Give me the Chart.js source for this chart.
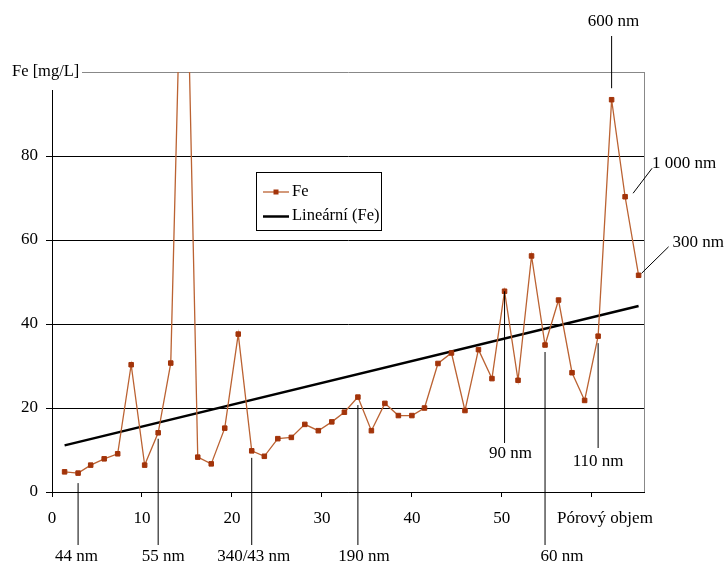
<!DOCTYPE html>
<html>
<head>
<meta charset="utf-8">
<script src="https://cdn.jsdelivr.net/npm/chart.js@4.4.1/dist/chart.umd.min.js"></script>
<style>
    html, body { margin: 0; padding: 0; background: #fff; }
    canvas { display: block; }
</style>
</head>
<body>
<canvas id="chart" width="726" height="566"></canvas>
<script>
// hodnoty
const poreVolume = [1.4, 2.9, 4.3, 5.8, 7.3, 8.8, 10.3, 11.8, 13.2, 14.7, 16.2, 17.7, 19.2, 20.7, 22.2,
    23.6, 25.1, 26.6, 28.1, 29.6, 31.1, 32.5, 34.0, 35.5, 37.0, 38.5, 40.0, 41.4, 42.9, 44.4,
    45.9, 47.4, 48.9, 50.3, 51.8, 53.3, 54.8, 56.3, 57.8, 59.2, 60.7, 62.2, 63.7, 65.2];
const feValues = [4.8, 4.5, 6.4, 7.9, 9.1, 30.3, 6.4, 14.1, 30.7, 159, 8.3, 6.7, 15.2, 37.6, 9.8,
    8.5, 12.7, 13.0, 16.1, 14.6, 16.7, 19.0, 22.6, 14.6, 21.1, 18.2, 18.2, 20.0, 30.6, 33.1,
    19.4, 33.9, 27.0, 47.8, 26.6, 56.2, 35.0, 45.7, 28.4, 21.8, 37.1, 93.4, 70.3, 51.6];
const trendVolume = [1.4, 65.2];
const trendFe = [11.1, 44.3];
const xTickLabels = ['0', '10', '20', '30', '40', '50'];
const yTickLabels = ['0', '20', '40', '60', '80'];
const xTitle = 'Pórový objem';
const yTitle = 'Fe [mg/L]';
const seriesName = 'Fe';
const trendName = 'Lineární (Fe)';

const FONT = '"Liberation Serif", "Times New Roman", serif';
const LINE_COLOR = '#bb6232';
const MARK_COLOR = '#a3340a';

// popisky velikosti pórů (i = index bodu, gap = odstup od bodu, end = konec čáry)
const notes = [
    { text: '44 nm', i: 1, gap: 10, end: 545, dx: -1.5, ty: 557 },
    { text: '55 nm', i: 7, gap: 6, end: 545, dx: 5, ty: 557 },
    { text: '340/43 nm', i: 14, gap: 7, end: 545, dx: 2, ty: 557 },
    { text: '190 nm', i: 22, gap: 8, end: 545, dx: 6, ty: 557 },
    { text: '60 nm', i: 36, gap: 7, end: 545, dx: 17, ty: 557 },
    { text: '90 nm', i: 33, gap: 0, end: 443, dx: 6, ty: 454 },
    { text: '110 nm', i: 40, gap: 7, end: 448, dx: 0, ty: 462 },
    { text: '600 nm', i: 41, gap: -11.5, end: 36, dx: 2, ty: 22 }
];
const slantNotes = [
    { text: '1 000 nm', i: 42, from: [8, -3.5], to: [27, -28.5], tx: 27, ty: -33.5 },
    { text: '300 nm', i: 43, from: [3, -2], to: [30, -28.5], tx: 34, ty: -33 }
];

const overlay = {
    id: 'overlay',
    afterDraw(chart) {
        const { ctx, chartArea: a, scales: { x, y } } = chart;
        ctx.save();
        ctx.font = '17px ' + FONT;
        ctx.fillStyle = '#000';

        // pravý okraj
        ctx.strokeStyle = '#888';
        ctx.lineWidth = 1;
        ctx.beginPath();
        ctx.moveTo(a.right + 0.5, a.top);
        ctx.lineTo(a.right + 0.5, a.bottom);
        ctx.stroke();

        // nadpis osy x
        ctx.textAlign = 'left';
        ctx.textBaseline = 'middle';
        ctx.fillText(xTitle, 557, 519);

        // nadpis osy y
        ctx.font = '16.5px ' + FONT;
        ctx.fillStyle = '#fff';
        ctx.fillRect(0, a.top - 12, 82, 30);
        ctx.fillStyle = '#000';
        ctx.fillText(yTitle, 12, a.top);

        // legenda
        ctx.fillStyle = '#fff';
        ctx.fillRect(256.5, 172.5, 125, 58);
        ctx.strokeStyle = '#000';
        ctx.strokeRect(256.5, 172.5, 125, 58);
        ctx.strokeStyle = LINE_COLOR;
        ctx.lineWidth = 1.3;
        ctx.beginPath();
        ctx.moveTo(263, 192);
        ctx.lineTo(289, 192);
        ctx.stroke();
        ctx.fillStyle = MARK_COLOR;
        ctx.fillRect(273.5, 189.5, 5, 5);
        ctx.strokeStyle = '#000';
        ctx.lineWidth = 2.5;
        ctx.beginPath();
        ctx.moveTo(263, 216.5);
        ctx.lineTo(289, 216.5);
        ctx.stroke();
        ctx.fillStyle = '#000';
        ctx.fillText(seriesName, 292, 192);
        ctx.fillText(trendName, 292, 216);

        // popisky
        ctx.font = '17px ' + FONT;
        ctx.lineWidth = 1;
        ctx.strokeStyle = '#000';
        ctx.textAlign = 'center';
        notes.forEach(n => {
            const px = x.getPixelForValue(poreVolume[n.i]);
            const py = y.getPixelForValue(feValues[n.i]);
            ctx.beginPath();
            ctx.moveTo(px, py + n.gap);
            ctx.lineTo(px, n.end);
            ctx.stroke();
            ctx.fillText(n.text, px + n.dx, n.ty);
        });
        ctx.textAlign = 'left';
        slantNotes.forEach(n => {
            const px = x.getPixelForValue(poreVolume[n.i]);
            const py = y.getPixelForValue(feValues[n.i]);
            ctx.beginPath();
            ctx.moveTo(px + n.from[0], py + n.from[1]);
            ctx.lineTo(px + n.to[0], py + n.to[1]);
            ctx.stroke();
            ctx.fillText(n.text, px + n.tx, py + n.ty);
        });
        ctx.restore();
    }
};

document.addEventListener('DOMContentLoaded', () => {
    Chart.defaults.font.family = FONT;
    Chart.defaults.font.size = 17;
    Chart.defaults.color = '#000';

    const ctx = document.getElementById('chart').getContext('2d');
    new Chart(ctx, {
        type: 'line',
        data: {
            datasets: [{
                label: seriesName,
                data: poreVolume.map((v, i) => ({ x: v, y: feValues[i] })),
                borderColor: LINE_COLOR,
                borderWidth: 1.3,
                pointStyle: 'rect',
                pointRadius: 3.2,
                pointBorderWidth: 1,
                pointBackgroundColor: MARK_COLOR,
                pointBorderColor: MARK_COLOR,
                tension: 0
            }, {
                label: trendName,
                data: trendVolume.map((v, i) => ({ x: v, y: trendFe[i] })),
                borderColor: '#000',
                borderWidth: 2.5,
                pointRadius: 0,
                tension: 0
            }]
        },
        options: {
            responsive: false,
            animation: false,
            layout: { padding: { top: 72, right: 82, left: 0, bottom: 0 } },
            plugins: {
                legend: { display: false },
                tooltip: { enabled: false }
            },
            scales: {
                x: {
                    type: 'linear',
                    min: 0,
                    max: 65.8,
                    afterFit: scale => { scale.height = 74; },
                    border: { color: '#000', width: 1 },
                    grid: { drawOnChartArea: false, drawTicks: true, tickLength: 5, color: '#000' },
                    ticks: {
                        stepSize: 10,
                        includeBounds: false,
                        maxRotation: 0,
                        padding: 11,
                        callback: v => xTickLabels.includes(String(v)) ? String(v) : ''
                    }
                },
                y: {
                    min: 0,
                    max: 100,
                    afterFit: scale => { scale.width = 52; },
                    border: { color: '#000', width: 1 },
                    grid: {
                        tickLength: 6,
                        color: c => c.tick && c.tick.value === 100 ? '#888' : '#000'
                    },
                    ticks: {
                        stepSize: 20,
                        padding: 8,
                        callback: v => yTickLabels.includes(String(v)) ? String(v) : ''
                    }
                }
            }
        },
        plugins: [overlay]
    });
});
</script>
</body>
</html>
